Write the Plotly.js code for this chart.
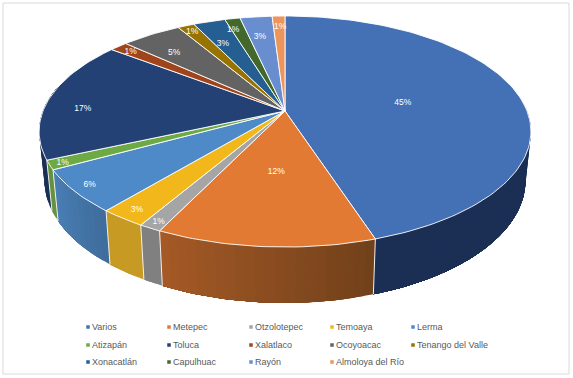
<!DOCTYPE html>
<html><head><meta charset="utf-8">
<script src="https://cdn.plot.ly/plotly-3.0.1.min.js"></script>
<style>html,body{margin:0;padding:0;background:#fff}#c{width:573px;height:378px}</style>
</head><body><div id="c"></div>
<script>
const categories=["Varios","Metepec","Otzolotepec","Temoaya","Lerma","Atizapán","Toluca","Xalatlaco","Ocoyoacac","Tenango del Valle","Xonacatlán","Capulhuac","Rayón","Almoloya del Río"];
const values=[45.0,12.2,1.25,2.6,6.0,1.3,17.1,1.4,4.7,1.3,2.5,1.2,2.5,1.0];
const labels=["45%","12%","1%","3%","6%","1%","17%","1%","5%","1%","3%","1%","3%","1%"];
const colors=["#4470B5","#E27A33","#A5A5A5","#F2B81B","#4F8AC8","#6DAA44","#234174","#A0441C","#636363","#997300","#255E91","#43682B","#698ED0","#EC955C"];
const wallFrom=["#1B2F55","#70401A","#808080","#C79A24","#3E6C9C","#64923E","#1A3058","#7A3512","#4A4A4A","#735600","#1C4670","#324E20","#4F6A9C","#B57045"];
const wallTo=["#1B2F55","#A65A26","#808080","#C79A24","#4A7FB5","#64923E","#1A3058","#7A3512","#4A4A4A","#735600","#1C4670","#324E20","#4F6A9C","#B57045"];
const labelRadius=[.5,.49,.945,.924,.93,.949,.84,.92,.77,.927,.74,.88,.767,.88];
const labelTurn=[0,0,0,0,.6,0,-5,0,-2,0,-1.5,-1.5,-.7,.3];

const CX=285,CY=111,A=111.9,B=242,K=0.1775,SX=.978,SY=1.06,Y0=158.7;
const rad=d=>d*Math.PI/180;
function facePt(t,f=1){const s=Math.sin(rad(t)),c=Math.cos(rad(t)),w=1+K*f*c;return [CX+B*f*s/w,CY-A*f*c/w];}
function basePt(t){const p=facePt(t);return [CX+SX*(p[0]-CX),Y0+SY*(p[1]-CY)];}
const hex=h=>[1,3,5].map(i=>parseInt(h.substr(i,2),16));
function mix(a,b,m){const x=hex(a),y=hex(b);return `rgb(${x.map((v,i)=>Math.round(v+(y[i]-v)*m)).join(",")})`;}

const total=values.reduce((a,b)=>a+b,0);
let cum=0;const wedges=values.map(v=>{const a=cum/total*360;cum+=v;return [a,cum/total*360];});
const traces=[];
// side walls: every band runs on to the wedge's end, the next band paints over it, so no seams
wedges.forEach(([a,b],i)=>{
  const lo=Math.max(a,84),hi=Math.min(b,282);
  if(hi<=lo)return;
  const n=Math.max(1,Math.ceil((hi-lo)/2));
  for(let j=0;j<n;j++){
    const t0=lo+(hi-lo)*j/n;
    const m=Math.max(3,Math.ceil((hi-t0)/1.5));
    const xs=[],ys=[];
    for(let q=0;q<=m;q++){const p=facePt(t0+(hi-t0)*q/m);xs.push(p[0]);ys.push(p[1]);}
    for(let q=m;q>=0;q--){const p=basePt(t0+(hi-t0)*q/m);xs.push(p[0]);ys.push(p[1]);}
    xs.push(xs[0]);ys.push(ys[0]);
    const col=mix(wallFrom[i],wallTo[i],(j+.5)/n);
    traces.push({type:"scatter",mode:"lines",x:xs,y:ys,fill:"toself",fillcolor:col,line:{width:0},hoverinfo:"skip",showlegend:false});
  }
});
// white seams on the wall
wedges.forEach(([a])=>{
  if(a<100||a>250)return;
  const p=facePt(a),q=basePt(a);
  traces.push({type:"scatter",mode:"lines",x:[p[0],q[0]],y:[p[1],q[1]],line:{color:"#F4F1EC",width:1},hoverinfo:"skip",showlegend:false});
});
// top face
wedges.forEach(([a,b],i)=>{
  const xs=[CX],ys=[CY];const n=Math.max(4,Math.ceil((b-a)/1.5));
  for(let j=0;j<=n;j++){const p=facePt(a+(b-a)*j/n);xs.push(p[0]);ys.push(p[1]);}
  xs.push(CX);ys.push(CY);
  traces.push({type:"scatter",mode:"lines",name:categories[i],x:xs,y:ys,fill:"toself",fillcolor:colors[i],line:{color:"#FFFFFF",width:.9},hoverinfo:"name",showlegend:false});
});
// percentage labels
const lp=wedges.map(([a,b],i)=>facePt((a+b)/2+labelTurn[i],labelRadius[i]));
traces.push({type:"scatter",mode:"text",x:lp.map(p=>p[0]),y:lp.map(p=>p[1]+1),text:labels,textposition:"middle center",cliponaxis:false,
  textfont:{family:"Liberation Sans, Arial, sans-serif",size:8.5,color:"#FFFFFF"},hoverinfo:"skip",showlegend:false});
// legend
const COLX=[88,169,251,332,413],ROWY=[327,345,362];
const lx=categories.map((_,i)=>COLX[i%5]),ly=categories.map((_,i)=>ROWY[Math.floor(i/5)]);
traces.push({type:"scatter",mode:"markers",x:lx,y:ly,marker:{symbol:"square",size:3.5,color:colors,line:{width:0}},hoverinfo:"skip",showlegend:false});
traces.push({type:"scatter",mode:"text",x:lx.map(v=>v+4),y:ly.map(v=>v+1),text:categories,textposition:"middle right",cliponaxis:false,
  textfont:{family:"Liberation Sans, Arial, sans-serif",size:9,color:"#595959"},hoverinfo:"skip",showlegend:false});

const hide={visible:false,fixedrange:true};
Plotly.newPlot("c",traces,{
  width:573,height:378,margin:{l:0,r:0,t:0,b:0},paper_bgcolor:"#fff",plot_bgcolor:"#fff",showlegend:false,
  xaxis:{...hide,range:[0,573]},yaxis:{...hide,range:[378,0]},
  shapes:[{type:"rect",xref:"x",yref:"y",x0:3,y0:3,x1:569,y1:374,line:{color:"#D9D9D9",width:1},layer:"below"}]
},{displayModeBar:false,staticPlot:true});
</script></body></html>
